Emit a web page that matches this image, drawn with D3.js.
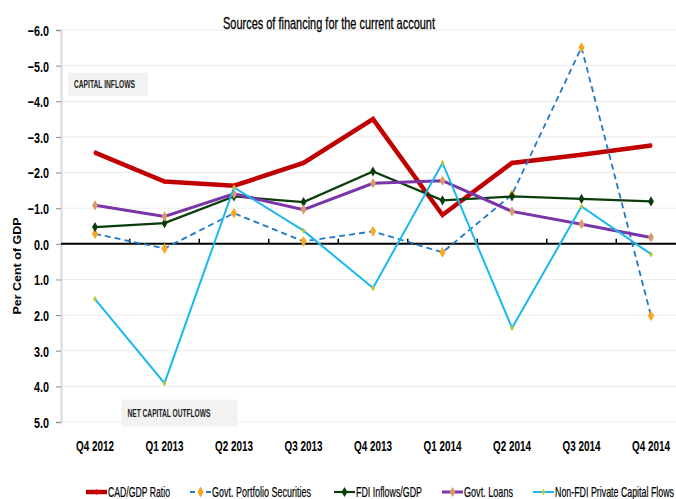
<!DOCTYPE html>
<html lang="en">
<head>
<meta charset="utf-8">
<title>Sources of financing for the current account</title>
<script src="https://cdn.jsdelivr.net/npm/d3@7"></script>
<style>
  body { margin: 0; background: #fff; }
  text { font-family: "Liberation Sans", Arial, sans-serif; }
</style>
</head>
<body>
<script>
// data (negative = inflow, axis is reversed)
var quarters = ["Q4 2012","Q1 2013","Q2 2013","Q3 2013","Q4 2013","Q1 2014","Q2 2014","Q3 2014","Q4 2014"]
var cadGdp      = [-2.56,-1.75,-1.63,-2.27,-3.50,-0.81,-2.27,-2.50,-2.76]
var govtPortf   = [-0.28, 0.13,-0.86,-0.07,-0.35, 0.24,-1.38,-5.51, 2.02]
var fdiInflows  = [-0.47,-0.58,-1.33,-1.17,-2.03,-1.22,-1.33,-1.26,-1.19]
var govtLoans   = [-1.08,-0.77,-1.40,-0.96,-1.70,-1.77,-0.91,-0.55,-0.18]
var nonFdi      = [ 1.55, 3.91,-1.58,-0.37, 1.24,-2.27, 2.36,-1.05, 0.29]
var yTicks = [-6,-5,-4,-3,-2,-1,0,1,2,3,4,5]

var width = 676, height = 499

var series = [
  {name:"CAD/GDP Ratio", values:cadGdp, color:"#c00000", w:4.5, dash:null, marker:"#e00000", ms:10},
  {name:"Govt. Portfolio Securities", values:govtPortf, color:"#1f78c8", w:1.8, dash:"6,4", marker:"#f7a823", ms:34},
  {name:"FDI Inflows/GDP", values:fdiInflows, color:"#0b3d0b", w:2.2, dash:null, marker:"#0b3d0b", ms:30},
  {name:"Govt. Loans", values:govtLoans, color:"#7a35a8", w:3, dash:null, marker:"#d89a6a", ms:30},
  {name:"Non-FDI Private Capital Flows", values:nonFdi, color:"#1ab8f0", w:2, dash:null, marker:"#b8c832", ms:12}
]

// squeeze text horizontally (the original uses a narrow font)
function squeeze(sel, k){
  sel.each(function(){
    var L = this.getComputedTextLength()
    d3.select(this).attr("textLength", L*k).attr("lengthAdjust", "spacingAndGlyphs")
  })
}

var svg = d3.select("body").append("svg")
  .attr("width", width)
  .attr("height", height)

var x = d3.scalePoint().domain(quarters).range([95, 651])
var step = x.step()
var y = d3.scaleLinear().domain([-6, 5]).range([30, 422])

// gridlines
svg.append("g").selectAll("line")
  .data(yTicks.filter(function(d){ return d != 0 }))
  .enter().append("line")
  .attr("x1", 61).attr("x2", width)
  .attr("y1", function(d){ return y(d) }).attr("y2", function(d){ return y(d) })
  .attr("stroke", "#ececec").attr("stroke-width", 1)

// y axis
var yAxis = svg.append("g")
  .attr("transform", "translate(61,0)")
  .call(d3.axisLeft(y).tickValues(yTicks).tickSize(5).tickPadding(7).tickFormat(d3.format(".1f")))
yAxis.select(".domain").attr("stroke", "#d9d9d9").attr("stroke-width", 2)
yAxis.selectAll(".tick line").attr("stroke", "#8c8c8c")
yAxis.selectAll("text")
  .style("font-family", "'Liberation Sans', Arial, sans-serif")
  .style("font-size", "15px").style("font-weight", "bold").attr("fill", "#000")
  .attr("dy", "0.36em")
squeeze(yAxis.selectAll("text"), 0.72)

// zero line with category ticks
var zeroY = y(0)
svg.append("line")
  .attr("x1", 61).attr("x2", width)
  .attr("y1", zeroY).attr("y2", zeroY)
  .attr("stroke", "#000").attr("stroke-width", 2)
svg.append("g").selectAll("line")
  .data(quarters.slice(1))
  .enter().append("line")
  .attr("x1", function(d){ return x(d) - step/2 }).attr("x2", function(d){ return x(d) - step/2 })
  .attr("y1", zeroY - 5).attr("y2", zeroY)
  .attr("stroke", "#000").attr("stroke-width", 1.5)

// x labels
var xl = svg.append("g").selectAll("text")
  .data(quarters)
  .enter().append("text")
  .attr("x", function(d){ return x(d) })
  .attr("y", 451)
  .attr("text-anchor", "middle")
  .style("font-size", "15px").style("font-weight", "bold")
  .text(function(d){ return d })
squeeze(xl, 0.66)

// annotation boxes
var notes = [
  {label:"CAPITAL INFLOWS", x0:0.1, v0:-4.8, w:80, h:23, tw:61},
  {label:"NET CAPITAL OUTFLOWS", x0:0.87, v0:4.37, w:116, h:27, tw:83}
]
notes.forEach(function(n){
  var bx = 61 + n.x0*step, by = y(n.v0)
  svg.append("rect").attr("x", bx).attr("y", by).attr("width", n.w).attr("height", n.h)
    .attr("fill", "#f2f2f2")
  svg.append("text").attr("x", bx + 6).attr("y", by + n.h/2 + 4)
    .style("font-size", "10.5px").style("font-weight", "bold").attr("fill", "#222")
    .attr("textLength", n.tw).attr("lengthAdjust", "spacingAndGlyphs")
    .text(n.label)
})

// lines
var line = d3.line()
  .x(function(d,i){ return x(quarters[i]) })
  .y(function(d){ return y(d) })
var diamond = d3.symbol().type(d3.symbolDiamond)

series.forEach(function(s){
  svg.append("path")
    .datum(s.values)
    .attr("d", line)
    .attr("fill", "none")
    .attr("stroke", s.color)
    .attr("stroke-width", s.w)
    .attr("stroke-dasharray", s.dash)
    .attr("stroke-linejoin", "miter")
  svg.append("g").selectAll("path")
    .data(s.values)
    .enter().append("path")
    .attr("transform", function(d,i){ return "translate(" + x(quarters[i]) + "," + y(d) + ")" })
    .attr("d", diamond.size(s.ms))
    .attr("fill", s.marker)
})

// title
svg.append("text")
  .attr("x", 329).attr("y", 29)
  .attr("text-anchor", "middle")
  .style("font-size", "17px")
  .attr("stroke", "#000").attr("stroke-width", 0.3)
  .attr("textLength", 212).attr("lengthAdjust", "spacingAndGlyphs")
  .text("Sources of financing for the current account")

// y title
svg.append("text")
  .attr("transform", "translate(21,266) rotate(-90)")
  .attr("text-anchor", "middle")
  .style("font-size", "11px").style("font-weight", "bold")
  .attr("textLength", 97).attr("lengthAdjust", "spacingAndGlyphs")
  .text("Per Cent of GDP")

// legend
var legendX = [86, 190, 334, 442, 533]
var legendTextW = [62, 99, 66, 49, 119]
var leg = svg.append("g").selectAll("g")
  .data(series)
  .enter().append("g")
  .attr("transform", function(d,i){ return "translate(" + legendX[i] + ",492)" })
leg.append("line")
  .attr("x1", 0).attr("x2", 21).attr("y1", 0).attr("y2", 0)
  .attr("stroke", function(d){ return d.color })
  .attr("stroke-width", function(d){ return d.w })
  .attr("stroke-dasharray", function(d,i){ return i == 1 ? "5,3" : null })
leg.append("path")
  .attr("transform", "translate(10.5,0)")
  .attr("d", function(d){ return diamond.size(d.ms)() })
  .attr("fill", function(d){ return d.marker })
leg.append("text")
  .attr("x", 22).attr("y", 5)
  .style("font-size", "14.5px")
  .attr("stroke", "#000").attr("stroke-width", 0.2)
  .attr("textLength", function(d,i){ return legendTextW[i] })
  .attr("lengthAdjust", "spacingAndGlyphs")
  .text(function(d){ return d.name })
</script>
</body>
</html>
